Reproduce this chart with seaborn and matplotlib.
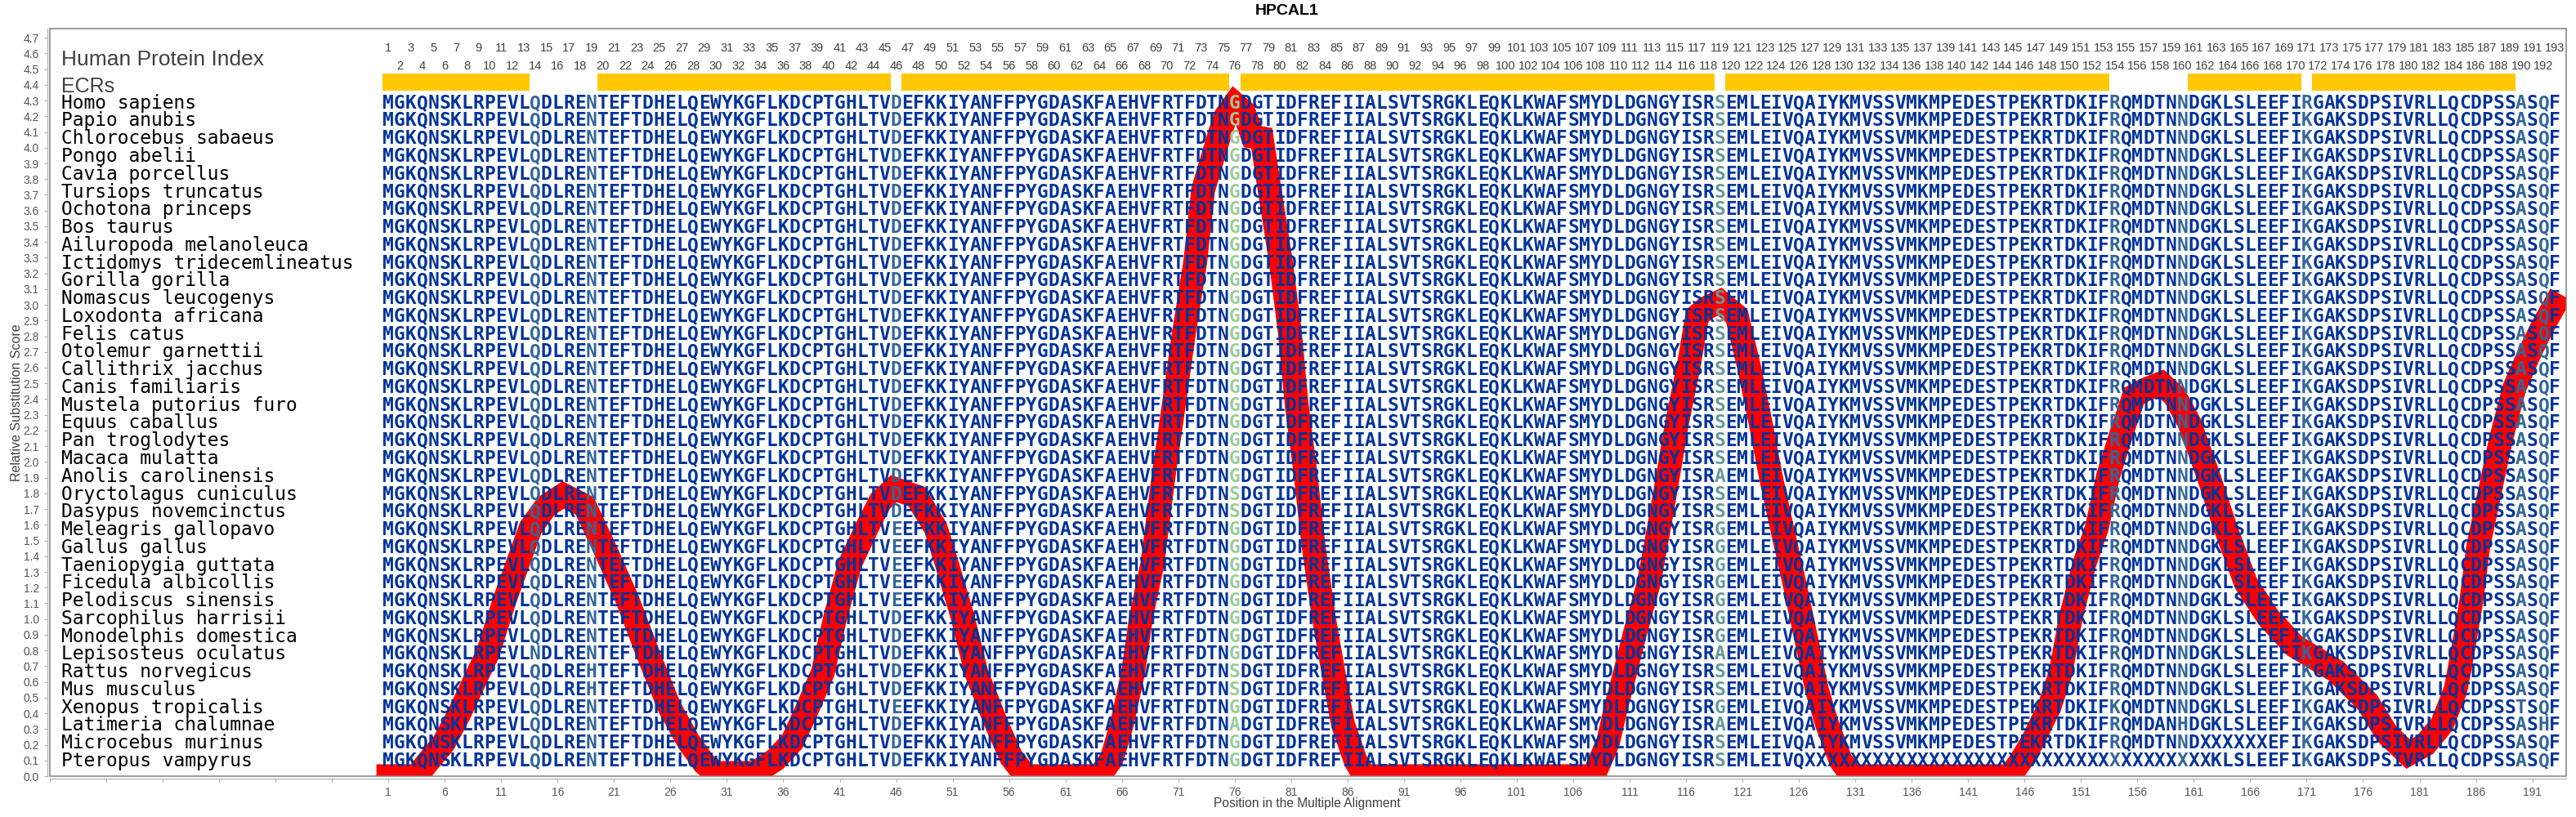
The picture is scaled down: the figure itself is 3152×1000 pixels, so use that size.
import numpy as np
import pandas as pd
import seaborn as sns
import matplotlib.pyplot as plt
from matplotlib.patches import Rectangle

# Species in the alignment, top to bottom
species = [
    "Homo sapiens", "Papio anubis", "Chlorocebus sabaeus", "Pongo abelii",
    "Cavia porcellus", "Tursiops truncatus", "Ochotona princeps", "Bos taurus",
    "Ailuropoda melanoleuca", "Ictidomys tridecemlineatus", "Gorilla gorilla",
    "Nomascus leucogenys", "Loxodonta africana", "Felis catus",
    "Otolemur garnettii", "Callithrix jacchus", "Canis familiaris",
    "Mustela putorius furo", "Equus caballus", "Pan troglodytes",
    "Macaca mulatta", "Anolis carolinensis", "Oryctolagus cuniculus",
    "Dasypus novemcinctus", "Meleagris gallopavo", "Gallus gallus",
    "Taeniopygia guttata", "Ficedula albicollis", "Pelodiscus sinensis",
    "Sarcophilus harrisii", "Monodelphis domestica", "Lepisosteus oculatus",
    "Rattus norvegicus", "Mus musculus", "Xenopus tropicalis",
    "Latimeria chalumnae", "Microcebus murinus", "Pteropus vampyrus",
]

human_seq = (
    "MGKQNSKLRPEVLQDLRENTEFTDHELQEWYKGFLKDCPTGHLTVDEFKK"
    "IYANFFPYGDASKFAEHVFRTFDTNGDGTIDFREFIIALSVTSRGKLEQK"
    "LKWAFSMYDLDGNGYISRSEMLEIVQAIYKMVSSVMKMPEDESTPEKRTD"
    "KIFRQMDTNNDGKLSLEEFIRGAKSDPSIVRLLQCDPSSASQF"
)

# Column substitutions: position -> {letter: species}
subs_46_E = ["Meleagris gallopavo", "Gallus gallus", "Taeniopygia guttata",
             "Ficedula albicollis", "Pelodiscus sinensis", "Xenopus tropicalis"]
subs_76_S = ["Oryctolagus cuniculus", "Dasypus novemcinctus",
             "Rattus norvegicus", "Mus musculus"]
subs_119_G = ["Meleagris gallopavo", "Gallus gallus", "Taeniopygia guttata",
              "Ficedula albicollis", "Pelodiscus sinensis",
              "Sarcophilus harrisii", "Monodelphis domestica",
              "Xenopus tropicalis"]
subs_119_A = ["Anolis carolinensis", "Lepisosteus oculatus", "Latimeria chalumnae"]
single_subs = [
    ("Lepisosteus oculatus", 14, "N"),
    ("Rattus norvegicus", 19, "H"),
    ("Mus musculus", 19, "H"),
    ("Latimeria chalumnae", 76, "A"),
    ("Xenopus tropicalis", 154, "K"),
    ("Latimeria chalumnae", 158, "A"),
    ("Latimeria chalumnae", 160, "H"),
    ("Xenopus tropicalis", 190, "T"),
    ("Latimeria chalumnae", 192, "H"),
]

# Highly substituted columns get lighter letters
mid_columns = [14, 19, 46, 154, 160, 171, 190, 192]
teal_column = 119
green_column = 76

ecr_start = [1, 20, 47, 77, 120, 161, 172]
ecr_end = [13, 45, 75, 118, 153, 170, 189]

# Relative substitution score
curve_pos = [1, 3.5, 4.5, 5.9, 7.3, 8.6, 9.8, 11.3, 13.6, 15, 16.5, 18.4, 20.1,
             22.2, 24, 25.9, 27.6, 29, 30, 33.5, 35.3, 36.8, 38.2, 39.5, 40.6,
             41.9, 43.4, 44.6, 45.8, 47.8, 49.5, 50.5, 51.9, 53.1, 54.9, 56.2,
             57.5, 64, 65.1, 66, 67, 67.7, 68.7, 69.7, 70.6, 71.5, 72.5, 73.2,
             74.6, 75.2, 76, 76.8, 77.6, 78.4, 79.1, 80.1, 80.9, 81.5, 82.3,
             83, 83.9, 84.75, 85.6, 86.7, 87.5, 107.8, 108.4, 109.1, 109.8,
             110.6, 111.4, 112.7, 113.6, 114.4, 115.2, 116.2, 117, 117.8, 119,
             120.5, 121.6, 122.6, 123.5, 124.5, 125.6, 126.6, 127.6, 128.5,
             129.7, 130.7, 144.7, 145.7, 146.7, 148.2, 149.2, 150.1, 151.3,
             152.4, 153.4, 154.4, 155.7, 156.7, 158.1, 159.3, 160.6, 162.3,
             163.8, 165.6, 167.6, 169.9, 173.6, 176.4, 178.1, 180, 181.5, 183,
             184.2, 184.8, 185.6, 186.2, 187.2, 188.2, 189.4, 190.8, 191.9, 193]
curve_score = [0.0, 0.0, 0.09, 0.21, 0.4, 0.6, 0.78, 1.12, 1.58, 1.72, 1.79,
               1.72, 1.46, 1.12, 0.78, 0.44, 0.22, 0.08, 0.02, 0.02, 0.105,
               0.22, 0.44, 0.66, 1.01, 1.35, 1.58, 1.75, 1.83, 1.78, 1.58, 1.35,
               1.01, 0.66, 0.33, 0.12, 0.0, 0.0, 0.11, 0.33, 0.66, 1.01, 1.35,
               1.91, 2.36, 2.82, 3.27, 3.73, 4.07, 4.2, 4.28, 4.23, 4.07, 4.06,
               3.73, 3.27, 2.82, 2.36, 1.91, 1.46, 1.01, 0.66, 0.33, 0.1, 0.0,
               0.0, 0.1, 0.22, 0.44, 0.66, 0.89, 1.23, 1.58, 1.91, 2.25, 2.6,
               2.93, 2.98, 3.02, 2.93, 2.6, 2.25, 1.91, 1.58, 1.23, 0.89, 0.55,
               0.33, 0.1, 0.0, 0.0, 0.1, 0.22, 0.44, 0.66, 1.01, 1.35, 1.58,
               1.91, 2.14, 2.42, 2.46, 2.5, 2.42, 2.25, 1.91, 1.58, 1.23, 1.01,
               0.83, 0.67, 0.47, 0.27, 0.14, 0.2, 0.33, 0.55, 0.78, 1.12, 1.46,
               1.8, 2.14, 2.47, 2.7, 2.86, 3.0]

title = "HPCAL1"
ylabel = "Relative Substitution Score"
xlabel = "Position in the Multiple Alignment"

# Build the rows
rows = {name: list(human_seq) for name in species}
for name in species[1:]:
    rows[name][171 - 1] = "K"
for name in subs_46_E:
    rows[name][46 - 1] = "E"
for name in subs_76_S:
    rows[name][76 - 1] = "S"
for name in subs_119_G:
    rows[name][119 - 1] = "G"
for name in subs_119_A:
    rows[name][119 - 1] = "A"
for name, pos, letter in single_subs:
    rows[name][pos - 1] = letter
for pos in range(162, 168):
    rows["Microcebus murinus"][pos - 1] = "X"
for pos in range(127, 163):
    rows["Pteropus vampyrus"][pos - 1] = "X"

sns.set_style("white")
plt.rcParams["font.family"] = ["Liberation Sans", "DejaVu Sans"]

fig = plt.figure(figsize=(31.52, 10), dpi=100)
ax = fig.add_axes([61 / 3152, 1 - 950 / 1000, (3140 - 61) / 3152, 915 / 1000])

df = pd.DataFrame({"pos": curve_pos, "score": curve_score})
sns.lineplot(data=df, x="pos", y="score", ax=ax, color="#ff0000", linewidth=21,
             estimator=None, sort=False, zorder=1,
             solid_capstyle="projecting", solid_joinstyle="miter")

ax.set_xlim(-29, 194)
ax.set_ylim(0, 4.758)

# Alignment letters and species names
baselines = np.linspace(4.25, 0.0624, len(species))
for name, y in zip(species, baselines):
    ax.text(-28, y, name, family="DejaVu Sans Mono", fontsize=16.5,
            color="black", ha="left", va="baseline", zorder=3)
    for pos, letter in enumerate(rows[name], start=1):
        if pos == green_column:
            col = "#99cc99"
        elif pos == teal_column:
            col = "#669999"
        elif pos in mid_columns:
            col = "#336699"
        else:
            col = "#003399"
        ax.text(pos, y, letter, family="DejaVu Sans Mono", fontweight="bold",
                fontsize=16.5, color=col, ha="center", va="baseline", zorder=3)

# ECR bars
for start, end in zip(ecr_start, ecr_end):
    ax.barh(4.4175, end - start + 1, height=0.109, left=start - 0.5,
            color="#ffc800", linewidth=0, zorder=2)

# Human protein index, two staggered rows
for pos in range(1, len(human_seq) + 1):
    y = 4.633 if pos % 2 == 1 else 4.52
    ax.text(pos, y, str(pos), fontsize=10.5, color="#404040", ha="center",
            va="center", zorder=3)

ax.text(-28, 4.56, "Human Protein Index", fontsize=19, color="#404040",
        ha="left", va="center", zorder=3)
ax.text(-28, 4.39, "ECRs", fontsize=18, color="#404040", ha="left", va="center",
        zorder=3)

# Axes
xticks = np.arange(-29, 194, 5)
ax.set_xticks(xticks)
ax.set_xticklabels([str(t) if t >= 1 else "" for t in xticks])
yticks = np.arange(0, 48) / 10
ax.set_yticks(yticks)
ax.set_yticklabels([f"{t:.1f}" for t in yticks])
ax.tick_params(axis="both", length=3, width=0.8, color="#b0b0b0", labelcolor="#555555",
               labelsize=10, pad=4, bottom=True, left=True)

for side in ["top", "right"]:
    ax.spines[side].set_visible(False)
for side in ["left", "bottom"]:
    ax.spines[side].set_position(("outward", 2.5))
    ax.spines[side].set_color("#b8b8b8")
    ax.spines[side].set_linewidth(1)

ax.add_patch(Rectangle((0, 0), 1, 1, transform=ax.transAxes, fill=False,
                       edgecolor="#808080", linewidth=1.1, clip_on=False, zorder=4))

ax.set_xlabel(xlabel, fontsize=11.2, color="#404040", va="center")
ax.xaxis.set_label_coords(0.4995, -0.037)
ax.set_ylabel(ylabel, fontsize=11.5, color="#404040", va="center")
ax.yaxis.set_label_coords(-0.0133, 0.4995)
ax.set_title(title, fontsize=14, fontweight="bold", color="black", x=0.4917,
             y=1 + 21 / 915, va="center", pad=0)

fig.savefig("out.png", dpi=100, facecolor="white")
